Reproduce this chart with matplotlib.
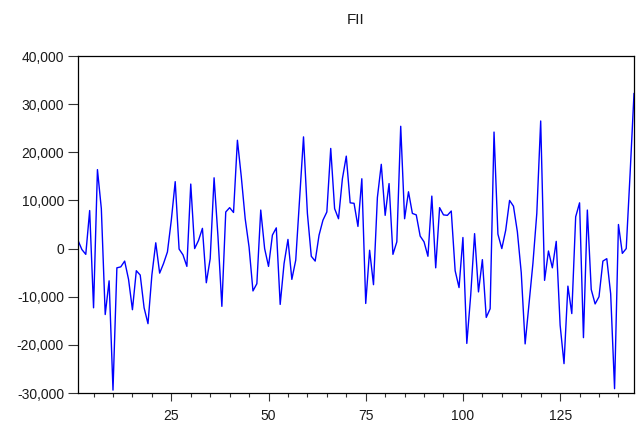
import numpy as np
import matplotlib
matplotlib.use("Agg")
import matplotlib.pyplot as plt
from matplotlib.ticker import FuncFormatter, MultipleLocator

fii = [1700, -200, -1200, 7900, -12300, 16400, 8300, -13700, -6700, -29400,
       -4000, -3800, -2600, -6400, -12700, -4600, -5500, -12300, -15600, -5500,
       1200, -5100, -3100, -700, 5900, 13900, -100, -1300, -3700, 13400,
       0, 1700, 4200, -7100, -2100, 14700, 2500, -12000, 7600, 8500,
       7500, 22500, 14900, 6200, 300, -8800, -7300, 8000, 0, -3700,
       2800, 4300, -11600, -3100, 1900, -6400, -2400, 10500, 23200, 7300,
       -1600, -2600, 2800, 5900, 7600, 20800, 8300, 6200, 14500, 19200,
       9500, 9400, 4600, 14500, -11400, -350, -7500, 10600, 17500, 6900,
       13500, -1200, 1400, 25400, 6200, 11800, 7300, 7000, 2600, 1400,
       -1600, 10900, -4000, 8500, 7000, 6900, 7800, -4600, -8100, 2300,
       -19700, -9700, 3100, -9000, -2300, -14300, -12500, 24200, 3000, 0,
       3800, 10000, 8800, 3500, -5000, -19800, -11500, -3100, 7300, 26500,
       -6600, -500, -4000, 1500, -15900, -23900, -7800, -13500, 6600, 9500,
       -18500, 8000, -8500, -11500, -10000, -2600, -2100, -9400, -29100, 5000,
       -1000, 0, 15600, 32200]
obs = np.arange(1, len(fii) + 1)

x_ticks = [25, 50, 75, 100, 125]
y_ticks = [-30000, -20000, -10000, 0, 10000, 20000, 30000, 40000]

plt.rcParams['font.family'] = ['Liberation Sans', 'DejaVu Sans']

fig = plt.figure(figsize=(6.41, 4.23), dpi=100)
ax = fig.add_axes([78/641, 1 - 393/423, (634 - 78)/641, (393 - 56)/423])

ax.plot(obs, fii, color="#0000FF", linewidth=1.0)

ax.set_xlim(1, len(fii))
ax.set_ylim(-30000, 40000)
ax.set_xticks(x_ticks)
ax.xaxis.set_minor_locator(MultipleLocator(5))
ax.set_yticks(y_ticks)
ax.yaxis.set_major_formatter(FuncFormatter(lambda v, p: f"{int(v):,}"))

ax.tick_params(axis="both", which="both", direction="out", colors="#333333",
               labelcolor="#1a1a1a", labelsize=10)
ax.tick_params(axis="y", which="major", length=7, width=0.8, pad=3)
ax.tick_params(axis="x", which="major", length=5.5, width=0.8, pad=6)
ax.tick_params(axis="x", which="minor", length=3, width=0.8)
for s in ax.spines.values():
    s.set_linewidth(0.9)
    s.set_color("black")

fig.text(356/641, 1 - 20/423, "FII", ha="center", va="center", fontsize=11,
         color="#1a1a1a")

fig.savefig("out.png", dpi=100)
